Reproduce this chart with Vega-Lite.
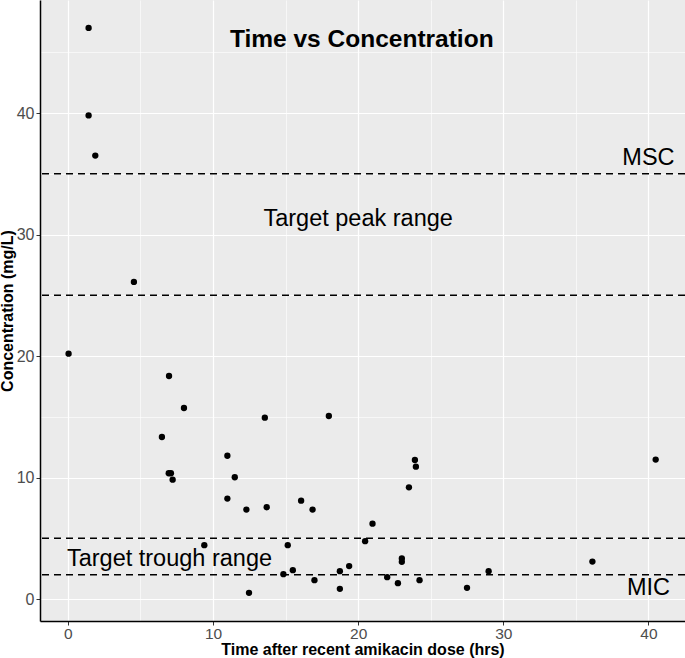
{
  "$schema": "https://vega.github.io/schema/vega-lite/v6.json",
  "width": 645,
  "height": 621,
  "autosize": {"type": "none"},
  "padding": {"left": 40, "top": 0, "right": 0, "bottom": 37},
  "background": "white",
  "view": {"fill": "#EBEBEB", "stroke": null},
  "config": {"font": "Liberation Sans"},
  "datasets": {
    "pts": [
      {"t": 1.43, "c": 47.0}, {"t": 1.43, "c": 39.8}, {"t": 1.89, "c": 36.5}, {"t": 4.55, "c": 26.1},
      {"t": 0.05, "c": 20.2}, {"t": 6.97, "c": 18.36}, {"t": 8.0, "c": 15.73}, {"t": 6.48, "c": 13.34},
      {"t": 13.57, "c": 14.93}, {"t": 17.98, "c": 15.07}, {"t": 10.99, "c": 11.8}, {"t": 6.95, "c": 10.36},
      {"t": 7.1, "c": 10.36}, {"t": 7.22, "c": 9.83}, {"t": 11.5, "c": 10.03}, {"t": 10.99, "c": 8.27},
      {"t": 12.3, "c": 7.37}, {"t": 13.7, "c": 7.56}, {"t": 16.07, "c": 8.1}, {"t": 16.86, "c": 7.37},
      {"t": 9.4, "c": 4.44}, {"t": 15.15, "c": 4.44}, {"t": 15.5, "c": 2.38}, {"t": 14.85, "c": 2.05},
      {"t": 12.48, "c": 0.52}, {"t": 16.99, "c": 1.56}, {"t": 18.74, "c": 2.3}, {"t": 18.74, "c": 0.85},
      {"t": 19.38, "c": 2.72}, {"t": 20.48, "c": 4.77}, {"t": 20.99, "c": 6.21}, {"t": 22.0, "c": 1.81},
      {"t": 22.74, "c": 1.31}, {"t": 23.01, "c": 3.34}, {"t": 23.01, "c": 3.07}, {"t": 23.5, "c": 9.2},
      {"t": 23.91, "c": 11.45}, {"t": 23.98, "c": 10.9}, {"t": 24.23, "c": 1.56}, {"t": 27.5, "c": 0.93},
      {"t": 28.99, "c": 2.3}, {"t": 36.14, "c": 3.09}, {"t": 40.5, "c": 11.48}
    ],
    "refs": [{"c": 35}, {"c": 25}, {"c": 5}, {"c": 2}],
    "labels": [
      {"label": "Target peak range", "t": 20.0, "c": 31.3},
      {"label": "Target trough range", "t": 7.0, "c": 3.3},
      {"label": "MSC", "t": 40.0, "c": 36.3},
      {"label": "MIC", "t": 40.0, "c": 0.95}
    ],
    "title": [{"label": "Time vs Concentration", "t": 20.25, "c": 46.0}]
  },
  "layer": [
    {
      "data": {"name": "refs"},
      "mark": {"type": "rule", "color": "black", "strokeWidth": 1.5, "strokeDash": [7, 5]},
      "encoding": {
        "y": {
          "field": "c", "type": "quantitative",
          "scale": {"domain": [-1.8, 49.3], "nice": false, "zero": false},
          "axis": {
            "orient": "left", "values": [5, 15, 25, 35, 45], "grid": true, "gridColor": "white", "gridWidth": 0.6,
            "labels": false, "ticks": false, "domain": false, "title": null
          }
        }
      }
    },
    {
      "data": {"name": "pts"},
      "mark": {"type": "circle", "color": "black", "size": 40, "opacity": 1},
      "encoding": {
        "x": {
          "field": "t", "type": "quantitative",
          "scale": {"domain": [-1.92, 42.52], "nice": false, "zero": false},
          "axis": {
            "orient": "bottom", "values": [0, 10, 20, 30, 40], "grid": true, "gridColor": "white", "gridWidth": 1.2,
            "domain": true, "domainColor": "black", "domainWidth": 1.5,
            "ticks": true, "tickColor": "#333333", "tickSize": 4, "tickWidth": 1,
            "labelColor": "#4D4D4D", "labelFontSize": 15.5, "labelPadding": 1,
            "title": "Time after recent amikacin dose (hrs)", "titleFontSize": 16, "titleFontWeight": "bold",
            "titleColor": "black", "titlePadding": 0
          }
        },
        "y": {
          "field": "c", "type": "quantitative",
          "axis": {
            "orient": "left", "values": [0, 10, 20, 30, 40], "grid": true, "gridColor": "white", "gridWidth": 1.2,
            "domain": true, "domainColor": "black", "domainWidth": 1.5,
            "ticks": true, "tickColor": "#333333", "tickSize": 4, "tickWidth": 1,
            "labelColor": "#4D4D4D", "labelFontSize": 16, "labelPadding": 2,
            "title": "Concentration (mg/L)", "titleFontSize": 16, "titleFontWeight": "bold",
            "titleColor": "black", "titlePadding": 1
          }
        }
      }
    },
    {
      "data": {"name": "labels"},
      "mark": {"type": "text", "fontSize": 23.5, "color": "black", "align": "center", "baseline": "middle"},
      "encoding": {
        "x": {
          "field": "t", "type": "quantitative",
          "axis": {
            "orient": "bottom", "values": [5, 15, 25, 35], "grid": true, "gridColor": "white", "gridWidth": 0.6,
            "labels": false, "ticks": false, "domain": false, "title": null
          }
        },
        "y": {"field": "c", "type": "quantitative", "axis": null},
        "text": {"field": "label"}
      }
    },
    {
      "data": {"name": "title"},
      "mark": {"type": "text", "fontSize": 24.5, "fontWeight": "bold", "color": "black", "align": "center", "baseline": "middle"},
      "encoding": {
        "x": {"field": "t", "type": "quantitative", "axis": null},
        "y": {"field": "c", "type": "quantitative", "axis": null},
        "text": {"field": "label"}
      }
    }
  ],
  "resolve": {"axis": {"x": "independent", "y": "independent"}}
}
